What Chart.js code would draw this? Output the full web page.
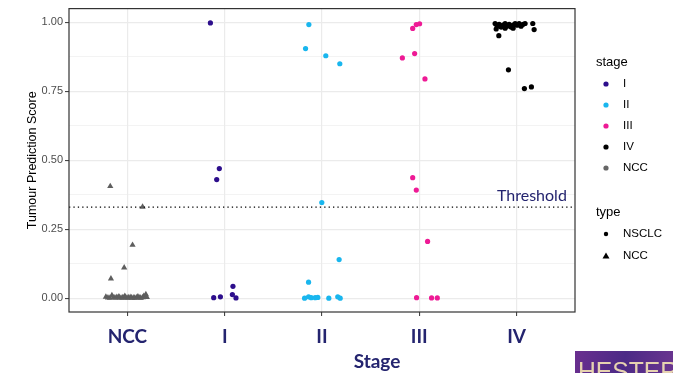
<!DOCTYPE html>
<html>
<head>
<meta charset="utf-8">
<script src="https://cdn.jsdelivr.net/npm/chart.js@4.4.1/dist/chart.umd.min.js"></script>
<style>
  body { margin: 0; background: #fff; }
  #wrap { width: 673px; height: 373px; }
</style>
</head>
<body>
<div id="wrap"><canvas id="chart" width="673" height="373"></canvas></div>
<script>
// categories on the x axis (position 1..5)
var stageLabels = ['NCC', 'I', 'II', 'III', 'IV'];
var yTicks = [0, 0.125, 0.25, 0.375, 0.5, 0.625, 0.75, 0.875, 1];
var threshold = 0.33;

// [jittered x, score]
var nccPoints = [
    [0.824, 0.406], [1.156, 0.331], [1.053, 0.193], [0.967, 0.111], [0.831, 0.071],
    [0.779, 0.005], [0.80, 0.002], [0.821, 0.001], [0.841, 0.010], [0.862, 0.003],
    [0.882, 0.001], [0.892, 0.004], [0.913, 0.006], [0.923, 0.002], [0.944, 0.001],
    [0.954, 0.003], [0.974, 0.008], [0.985, 0.002], [1.005, 0.001], [1.015, 0.003],
    [1.036, 0.004], [1.046, 0.001], [1.067, 0.002], [1.077, 0.001], [1.097, 0.003],
    [1.108, 0.006], [1.128, 0.002], [1.138, 0.001], [1.159, 0.003], [1.169, 0.008],
    [1.19, 0.014], [1.20, 0.004]
];
var stageIPoints = [
    [1.853, 0.998], [1.945, 0.470], [1.918, 0.430],
    [1.887, 0.002], [1.956, 0.005], [2.085, 0.043], [2.079, 0.013], [2.116, 0.001]
];
var stageIIPoints = [
    [2.865, 0.992], [2.831, 0.905], [3.039, 0.879], [3.183, 0.850],
    [2.998, 0.347], [3.176, 0.140], [2.862, 0.058],
    [2.821, 0.0], [2.862, 0.005], [2.889, 0.002], [2.930, 0.002], [2.957, 0.003],
    [3.070, 0.0], [3.162, 0.005], [3.187, 0.0]
];
var stageIIIPoints = [
    [3.932, 0.978], [3.969, 0.992], [4.003, 0.995], [3.826, 0.871], [3.952, 0.887],
    [4.058, 0.795], [3.932, 0.437], [3.969, 0.392], [4.085, 0.206],
    [3.972, 0.002], [4.126, 0.001], [4.185, 0.001]
];
var stageIVPoints = [
    [4.779, 0.996], [4.80, 0.986], [4.82, 0.993], [4.841, 0.983], [4.861, 0.990],
    [4.882, 0.996], [4.902, 0.986], [4.923, 0.993], [4.944, 0.983], [4.964, 0.990],
    [4.985, 0.996], [5.005, 0.990], [5.026, 0.996], [5.046, 0.986], [5.067, 0.993],
    [5.087, 0.996], [4.79, 0.976], [4.882, 0.979], [4.964, 0.979], [4.817, 0.952],
    [5.166, 0.996], [5.18, 0.974], [4.916, 0.828], [5.08, 0.760], [5.152, 0.766]
];

var stageNames = ['I', 'II', 'III', 'IV', 'NCC'];
var stageColors = ['#2d0e8c', '#19b6ee', '#ee1a95', '#000000', '#666666'];
var typeNames = ['NSCLC', 'NCC'];
var navy = '#24246f';

function toXY(arr) {
    return arr.map(function (p) { return { x: p[0], y: p[1] }; });
}

// panel border, legends, axis title and the logo strip
var extras = {
    id: 'extras',
    afterDraw: function (chart) {
        var ctx = chart.ctx;
        var a = chart.chartArea;
        ctx.save();
        ctx.strokeStyle = '#333333';
        ctx.lineWidth = 1.2;
        ctx.strokeRect(a.left, a.top, a.right - a.left, a.bottom - a.top);

        // threshold label
        ctx.fillStyle = navy;
        ctx.font = '16px Lato';
        ctx.textAlign = 'left';
        ctx.textBaseline = 'middle';
        ctx.fillText('Threshold', 497, 196);

        // x title
        ctx.font = 'bold 19px Lato';
        ctx.textAlign = 'center';
        ctx.fillText('Stage', 377, 362);

        // stage legend
        ctx.textAlign = 'left';
        ctx.fillStyle = '#000';
        ctx.font = '13px "Liberation Sans"';
        ctx.fillText('stage', 596, 62);
        ctx.font = '11.5px "Liberation Sans"';
        for (var i = 0; i < stageNames.length; i++) {
            var y = 84 + i * 21;
            ctx.fillStyle = stageColors[i];
            ctx.beginPath();
            ctx.arc(606, y, 2.6, 0, Math.PI * 2);
            ctx.fill();
            ctx.fillStyle = '#000';
            ctx.fillText(stageNames[i], 623, y);
        }
        // type legend
        ctx.font = '13px "Liberation Sans"';
        ctx.fillText('type', 596, 212);
        ctx.font = '11.5px "Liberation Sans"';
        ctx.fillStyle = '#000';
        ctx.beginPath();
        ctx.arc(606, 234, 2.2, 0, Math.PI * 2);
        ctx.fill();
        ctx.beginPath();
        ctx.moveTo(606, 252.5);
        ctx.lineTo(609.5, 258.5);
        ctx.lineTo(602.5, 258.5);
        ctx.closePath();
        ctx.fill();
        ctx.fillText(typeNames[0], 623, 234);
        ctx.fillText(typeNames[1], 623, 256);

        // logo strip in the corner
        var g = ctx.createLinearGradient(575, 351, 673, 373);
        g.addColorStop(0, '#6a2f8f');
        g.addColorStop(0.5, '#4c2a86');
        g.addColorStop(1, '#6b3590');
        ctx.fillStyle = g;
        ctx.fillRect(575, 351, 98, 22);
        ctx.beginPath();
        ctx.rect(575, 351, 98, 22);
        ctx.clip();
        ctx.fillStyle = '#e6d2b0';
        ctx.font = '26px "Liberation Sans Narrow", "Liberation Sans"';
        ctx.textBaseline = 'alphabetic';
        ctx.save();
        ctx.translate(578, 380);
        ctx.scale(0.95, 1);
        ctx.fillText('HESTER', 0, 0);
        ctx.restore();
        ctx.restore();
    }
};

var ctx = document.getElementById('chart');
var chart = new Chart(ctx, {
    type: 'scatter',
    data: {
        datasets: [
            {
                type: 'line',
                data: [{ x: 0.4, y: threshold }, { x: 5.6, y: threshold }],
                borderColor: '#000',
                borderWidth: 1.3,
                borderDash: [1.3, 3.1],
                pointRadius: 0,
                fill: false
            },
            { data: toXY(nccPoints), pointStyle: 'triangle', pointRadius: 3.6, backgroundColor: '#5e5e5e', borderWidth: 0 },
            { data: toXY(stageIPoints), pointStyle: 'circle', pointRadius: 2.6, backgroundColor: stageColors[0], borderWidth: 0 },
            { data: toXY(stageIIPoints), pointStyle: 'circle', pointRadius: 2.6, backgroundColor: stageColors[1], borderWidth: 0 },
            { data: toXY(stageIIIPoints), pointStyle: 'circle', pointRadius: 2.6, backgroundColor: stageColors[2], borderWidth: 0 },
            { data: toXY(stageIVPoints), pointStyle: 'circle', pointRadius: 2.6, backgroundColor: stageColors[3], borderWidth: 0 }
        ]
    },
    options: {
        responsive: false,
        animation: false,
        devicePixelRatio: 1,
        layout: { padding: { left: 0, right: 98, top: 8, bottom: 0 } },
        plugins: {
            legend: { display: false },
            tooltip: { enabled: false }
        },
        scales: {
            x: {
                type: 'linear',
                min: 0.4,
                max: 5.6,
                afterBuildTicks: function (scale) {
                    scale.ticks = stageLabels.map(function (l, i) { return { value: i + 1 }; });
                },
                afterFit: function (scale) { scale.height = 61; },
                ticks: {
                    callback: function (v) { return stageLabels[v - 1]; },
                    color: navy,
                    font: { family: 'Lato', weight: 'bold', size: 19 },
                    padding: 9,
                    maxRotation: 0
                },
                grid: {
                    color: '#ebebeb',
                    lineWidth: 1.2,
                    tickColor: '#333',
                    tickLength: 4,
                    tickWidth: 1
                },
                border: { display: false }
            },
            y: {
                min: -0.05,
                max: 1.05,
                afterBuildTicks: function (scale) {
                    scale.ticks = yTicks.map(function (v) { return { value: v }; });
                },
                afterFit: function (scale) { scale.width = 69; },
                ticks: {
                    callback: function (v) {
                        return (Math.round(v * 1000) % 250 === 0) ? v.toFixed(2) : '';
                    },
                    color: '#4d4d4d',
                    font: { family: 'Liberation Sans', size: 11 },
                    padding: 2
                },
                grid: {
                    color: '#ebebeb',
                    lineWidth: function (c) {
                        return (c.tick && Math.round(c.tick.value * 1000) % 250 === 0) ? 1.2 : 0.6;
                    },
                    tickColor: function (c) {
                        return (c.tick && Math.round(c.tick.value * 1000) % 250 === 0) ? '#333' : 'rgba(0,0,0,0)';
                    },
                    tickLength: 4,
                    tickWidth: 1
                },
                border: { display: false },
                title: {
                    display: true,
                    text: 'Tumour Prediction Score',
                    color: '#000',
                    font: { family: 'Liberation Sans', size: 12.5 },
                    padding: { top: 25, bottom: 3 }
                }
            }
        }
    },
    plugins: [extras]
});
</script>
</body>
</html>
